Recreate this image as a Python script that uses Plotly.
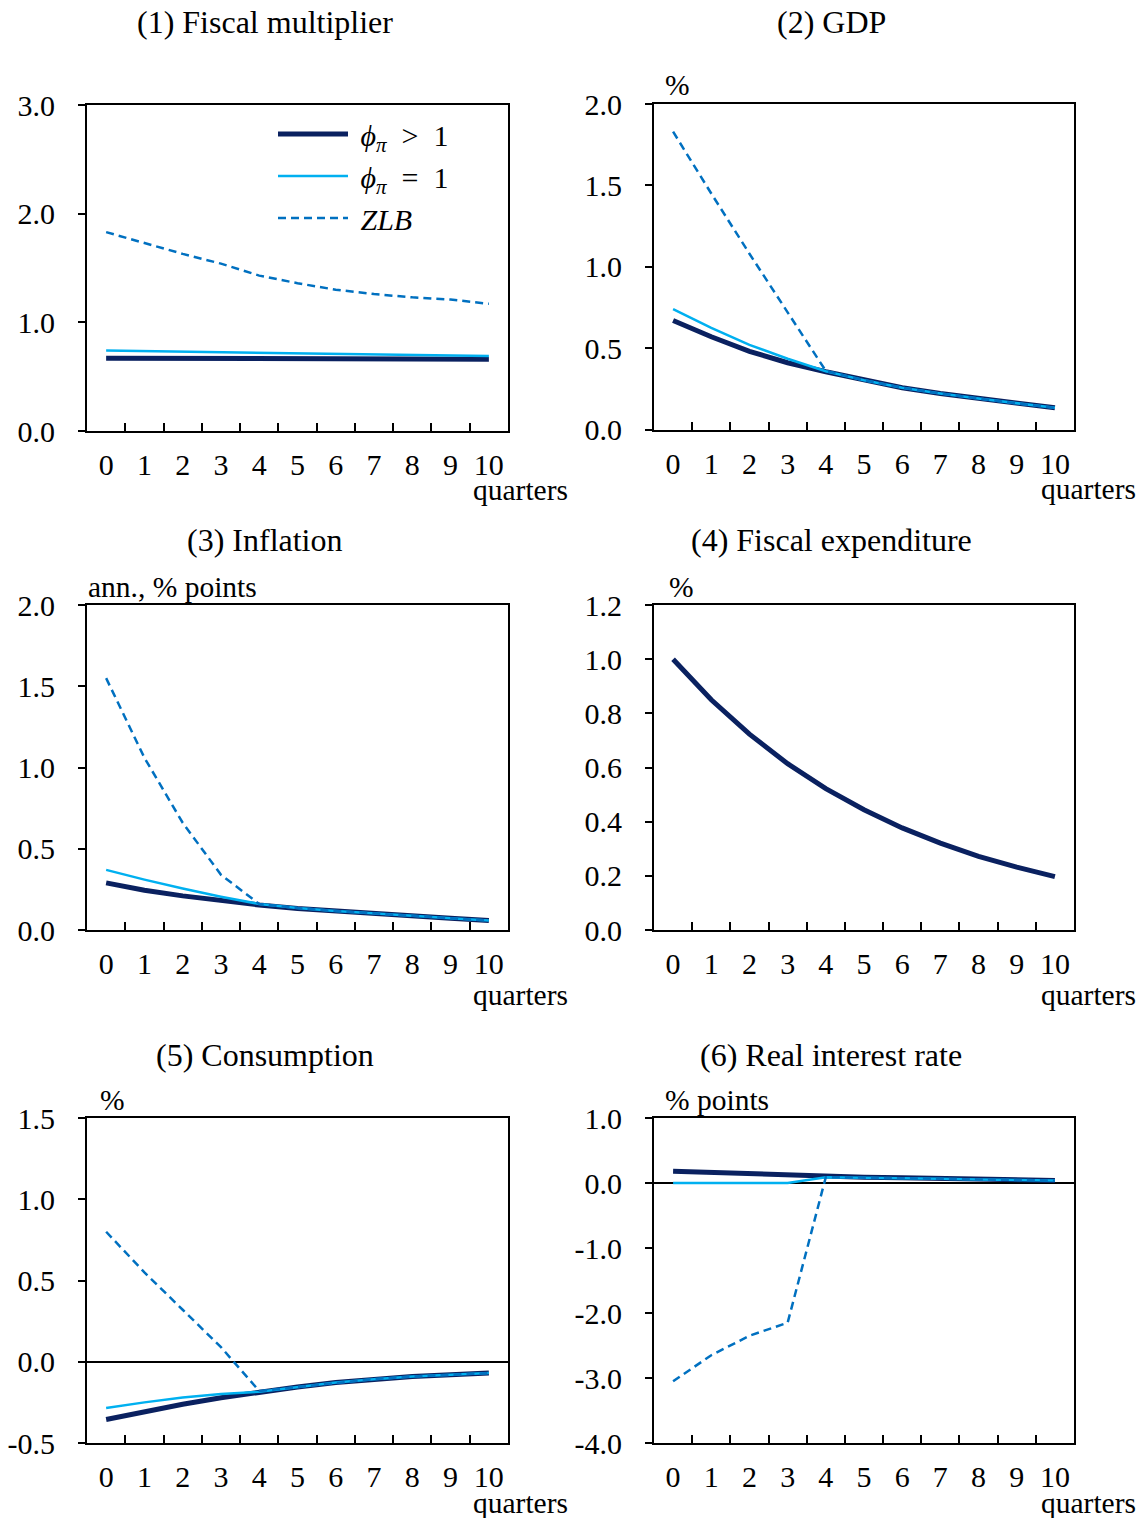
import plotly.graph_objects as go

W, H = 1146, 1518

quarters = [str(i) for i in range(11)]

# (1) Fiscal multiplier
mult_taylor = [0.67, 0.67, 0.67, 0.665, 0.665, 0.665, 0.665, 0.66, 0.66, 0.66, 0.66]
mult_phi1 = [0.74, 0.735, 0.73, 0.725, 0.72, 0.715, 0.71, 0.705, 0.70, 0.695, 0.69]
mult_zlb = [1.83, 1.73, 1.63, 1.54, 1.43, 1.36, 1.30, 1.26, 1.23, 1.21, 1.17]

# (2) GDP
gdp_taylor = [0.67, 0.57, 0.48, 0.41, 0.355, 0.303, 0.257, 0.221, 0.19, 0.16, 0.133]
gdp_phi1 = [0.74, 0.625, 0.52, 0.435, 0.358, 0.303, 0.257, 0.221, 0.19, 0.16, 0.133]
gdp_zlb = [1.83, 1.45, 1.08, 0.72, 0.36, 0.303, 0.257, 0.221, 0.19, 0.16, 0.133]

# (3) Inflation
inf_taylor = [0.29, 0.245, 0.21, 0.18, 0.154, 0.133, 0.116, 0.10, 0.087, 0.072, 0.058]
inf_phi1 = [0.37, 0.31, 0.255, 0.205, 0.16, 0.135, 0.117, 0.10, 0.087, 0.072, 0.058]
inf_zlb = [1.55, 1.06, 0.66, 0.34, 0.16, 0.135, 0.117, 0.10, 0.087, 0.072, 0.058]

# (4) Fiscal expenditure
gov_spend = [1.0, 0.85, 0.723, 0.614, 0.522, 0.444, 0.377, 0.321, 0.272, 0.232, 0.197]

# (5) Consumption
cons_taylor = [-0.355, -0.305, -0.262, -0.222, -0.185, -0.155, -0.128, -0.107, -0.091, -0.08, -0.07]
cons_phi1 = [-0.285, -0.25, -0.22, -0.198, -0.185, -0.155, -0.128, -0.107, -0.091, -0.08, -0.07]
cons_zlb = [0.80, 0.55, 0.32, 0.09, -0.18, -0.155, -0.128, -0.107, -0.091, -0.08, -0.07]

# (6) Real interest rate
rr_taylor = [0.18, 0.16, 0.14, 0.12, 0.10, 0.09, 0.08, 0.07, 0.06, 0.05, 0.04]
rr_phi1 = [0.0, 0.0, 0.0, 0.0, 0.09, 0.085, 0.075, 0.065, 0.055, 0.045, 0.038]
rr_zlb = [-3.05, -2.65, -2.35, -2.15, 0.09, 0.085, 0.075, 0.065, 0.055, 0.045, 0.038]

panel_titles = ["(1) Fiscal multiplier", "(2) GDP", "(3) Inflation",
                "(4) Fiscal expenditure", "(5) Consumption", "(6) Real interest rate"]
unit_labels = ["", "%", "ann., % points", "%", "%", "% points"]
y_ranges = [(0, 3), (0, 2), (0, 2), (0, 1.2), (-0.5, 1.5), (-4, 1)]
y_ticks = [
    [0, 1, 2, 3],
    [0, 0.5, 1.0, 1.5, 2.0],
    [0, 0.5, 1.0, 1.5, 2.0],
    [0, 0.2, 0.4, 0.6, 0.8, 1.0, 1.2],
    [-0.5, 0, 0.5, 1.0, 1.5],
    [-4, -3, -2, -1, 0, 1],
]
series_names = [" <i>ϕ</i><sub><i>π</i></sub>  >  1", " <i>ϕ</i><sub><i>π</i></sub>  =  1", " <i>ZLB</i>"]

panels = [
    [mult_taylor, mult_phi1, mult_zlb],
    [gdp_taylor, gdp_phi1, gdp_zlb],
    [inf_taylor, inf_phi1, inf_zlb],
    [gov_spend],
    [cons_taylor, cons_phi1, cons_zlb],
    [rr_taylor, rr_phi1, rr_zlb],
]

# pixel boxes (left, right, top, bottom)
boxes = [
    (87, 508, 105, 431),
    (654, 1074, 104, 429.5),
    (87, 508, 605, 930),
    (654, 1074, 605, 930),
    (87, 508, 1118, 1443),
    (654, 1074, 1118, 1443),
]

NAVY = "#0A2160"
LIGHT = "#00B0F0"
MID = "#0070C0"
styles = [
    dict(color=NAVY, width=5),
    dict(color=LIGHT, width=2.5),
    dict(color=MID, width=2.5, dash="8px,5px"),
]

FONT = "Liberation Serif"
TICKSIZE = 30
LABELSIZE = 29.5

fig = go.Figure()
for i, series in enumerate(panels):
    ax = "" if i == 0 else str(i + 1)
    for j, ys in enumerate(series):
        fig.add_trace(go.Scatter(
            x=quarters, y=ys, mode="lines",
            name=series_names[j], line=styles[j],
            xaxis="x" + ax, yaxis="y" + ax,
            showlegend=(i == 0),
        ))
    l, r, t, b = boxes[i]
    fig.update_layout(**{
        "xaxis" + ax: dict(
            domain=[l / W, r / W], anchor="y" + ax, type="category",
            range=[-0.5, 10.5], tickson="boundaries", tickangle=0,
            ticks="inside", ticklen=8, tickwidth=2, tickcolor="black",
            showline=True, linecolor="black", linewidth=2, mirror=True,
            showgrid=False, zeroline=False, automargin=False,
            tickfont=dict(family=FONT, size=TICKSIZE, color="black"),
            ticklabelstandoff=6,
        ),
        "yaxis" + ax: dict(
            domain=[1 - b / H, 1 - t / H], anchor="x" + ax,
            range=list(y_ranges[i]), automargin=False,
            tickmode="array", tickvals=y_ticks[i],
            ticktext=[f"{v:.1f}" for v in y_ticks[i]],
            ticks="outside", ticklen=7, tickwidth=2, tickcolor="black",
            showline=True, linecolor="black", linewidth=2, mirror=True,
            showgrid=False,
            zeroline=(y_ranges[i][0] < 0), zerolinecolor="black", zerolinewidth=2,
            tickfont=dict(family=FONT, size=TICKSIZE, color="black"),
            ticklabelstandoff=17,
        ),
    })

annotations = []
title_pos = [(265, 22), (831, 22), (265, 540), (831, 540), (265, 1055), (831, 1055)]
for (x, y), txt in zip(title_pos, panel_titles):
    annotations.append(dict(text=txt, x=x / W, y=1 - y / H, xref="paper", yref="paper",
                            xanchor="center", yanchor="middle", showarrow=False,
                            font=dict(family=FONT, size=32, color="black")))
unit_pos = [None, (663, 85), (86, 587), (667, 587), (98, 1100), (663, 1100)]
for pos, txt in zip(unit_pos, unit_labels):
    if pos is None or not txt:
        continue
    annotations.append(dict(text=txt, x=pos[0] / W, y=1 - pos[1] / H, xref="paper", yref="paper",
                            xanchor="left", yanchor="middle", showarrow=False,
                            font=dict(family=FONT, size=LABELSIZE, color="black")))
q_pos = [(520, 490), (1088, 489), (520, 995), (1088, 995), (520, 1503), (1088, 1503)]
for x, y in q_pos:
    annotations.append(dict(text="quarters", x=x / W, y=1 - y / H, xref="paper", yref="paper",
                            xanchor="center", yanchor="middle", showarrow=False,
                            font=dict(family=FONT, size=LABELSIZE, color="black")))

fig.update_layout(
    width=W, height=H, autosize=False,
    margin=dict(l=0, r=0, t=0, b=0, pad=0, autoexpand=False),
    paper_bgcolor="white", plot_bgcolor="white",
    annotations=annotations,
    showlegend=True,
    legend=dict(x=273 / W, y=1 - 108 / H, xanchor="left", yanchor="top",
                bgcolor="rgba(0,0,0,0)", borderwidth=0, itemwidth=70,
                font=dict(family=FONT, size=30, color="black")),
)

fig.write_html("out.html", config={"displayModeBar": False},
               post_script="document.body.style.margin='0px';")
